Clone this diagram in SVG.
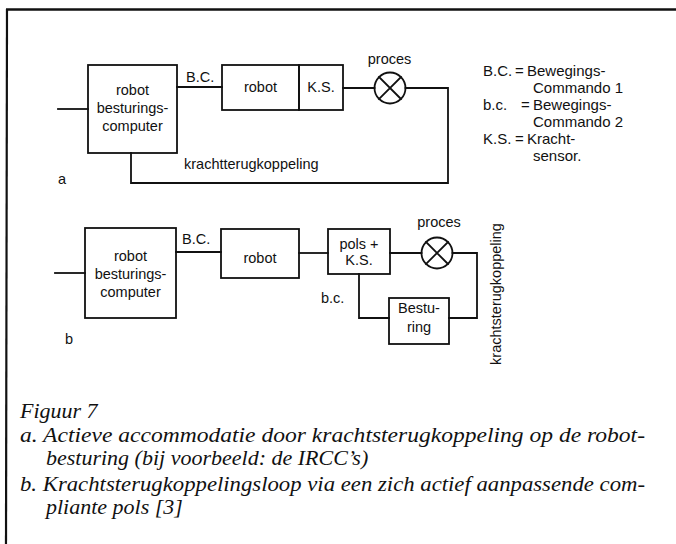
<svg xmlns="http://www.w3.org/2000/svg" width="676" height="544" viewBox="0 0 676 544">
<style>
.ln{fill:none;stroke:#111;stroke-width:1.8;stroke-linecap:square}
.bx{fill:none;stroke:#111;stroke-width:1.8}
.t{font-family:"Liberation Sans",Arial,sans-serif;font-size:14.5px;fill:#111}
.lg{font-size:15px}
.c{text-anchor:middle}
.cap{font-family:"Liberation Serif","Times New Roman",serif;font-style:italic;font-size:22px;fill:#111}
</style>
<rect x="0" y="0" width="676" height="544" fill="#fff"/>
<g id="frame">
<line x1="6" y1="9.5" x2="676" y2="9.5" stroke="#111" stroke-width="2.5"/>
<line x1="7" y1="9" x2="6" y2="544" stroke="#111" stroke-width="2.2"/>
</g>
<g id="connectors">
<path class="ln" d="M58 109H88"/>
<path class="ln" d="M177 87H222"/>
<path class="ln" d="M343 88H374.5"/>
<path class="ln" d="M405.5 88H448V183H131V153"/>
<path class="ln" d="M55 273H85"/>
<path class="ln" d="M176 252H221"/>
<path class="ln" d="M299 253H328"/>
<path class="ln" d="M390 253H421.5"/>
<path class="ln" d="M452.5 253H477V318H449"/>
<path class="ln" d="M359 274V318H389"/>
</g>
<g id="a-computer">
<rect class="bx" x="88" y="65" width="89" height="88"/>
<text class="t c" x="132.5" y="95">robot</text>
<text class="t c" x="132.5" y="113">besturings-</text>
<text class="t c" x="132.5" y="131">computer</text>
</g>
<text class="t" x="186" y="82">B.C.</text>
<g id="a-robot">
<rect class="bx" x="222" y="65" width="77" height="45"/>
<text class="t c" x="260.5" y="92">robot</text>
</g>
<g id="a-ks">
<rect class="bx" x="299" y="65" width="44" height="45"/>
<text class="t c" x="321" y="92">K.S.</text>
</g>
<g id="a-proces">
<circle class="bx" cx="390" cy="88" r="15.5"/>
<path class="ln" d="M379 77L401 99M401 77L379 99"/>
<text class="t c" x="389.5" y="64">proces</text>
</g>
<text class="t" x="184" y="169">krachtterugkoppeling</text>
<text class="t" x="58" y="184">a</text>
<g id="legend">
<text class="t lg" x="483" y="76">B.C.</text><text class="t lg" x="515" y="76">=</text><text class="t lg" x="527" y="76">Bewegings-</text>
<text class="t lg" x="533" y="93">Commando 1</text>
<text class="t lg" x="483" y="110">b.c.</text><text class="t lg" x="521" y="110">=</text><text class="t lg" x="533" y="110">Bewegings-</text>
<text class="t lg" x="533" y="127">Commando 2</text>
<text class="t lg" x="483" y="144">K.S.</text><text class="t lg" x="515" y="144">=</text><text class="t lg" x="527" y="144">Kracht-</text>
<text class="t lg" x="533" y="161">sensor.</text>
</g>
<g id="b-computer">
<rect class="bx" x="85" y="228" width="91" height="90"/>
<text class="t c" x="130.5" y="261">robot</text>
<text class="t c" x="130.5" y="279">besturings-</text>
<text class="t c" x="130.5" y="297">computer</text>
</g>
<text class="t" x="182" y="244">B.C.</text>
<g id="b-robot">
<rect class="bx" x="221" y="229" width="78" height="49"/>
<text class="t c" x="260" y="263">robot</text>
</g>
<g id="b-pols">
<rect class="bx" x="328" y="229" width="62" height="45"/>
<text class="t c" x="359" y="249">pols +</text>
<text class="t c" x="359" y="265">K.S.</text>
</g>
<g id="b-proces">
<circle class="bx" cx="437" cy="253" r="15.5"/>
<path class="ln" d="M426 242L448 264M448 242L426 264"/>
<text class="t c" x="439" y="227">proces</text>
</g>
<g id="b-besturing">
<rect class="bx" x="389" y="298" width="60" height="46"/>
<text class="t c" x="419" y="313">Bestu-</text>
<text class="t c" x="419" y="332">ring</text>
</g>
<text class="t" x="321" y="303">b.c.</text>
<text class="t c" transform="translate(501 294) rotate(-90)" x="0" y="0">krachtsterugkoppeling</text>
<text class="t" x="65" y="344">b</text>
<g id="caption">
<text class="cap" x="20" y="418">Figuur 7</text>
<text class="cap" x="20" y="442" textLength="625" lengthAdjust="spacingAndGlyphs">a.  Actieve accommodatie door krachtsterugkoppeling op de robot-</text>
<text class="cap" x="46" y="465">besturing (bij voorbeeld: de IRCC’s)</text>
<text class="cap" x="20" y="491" textLength="625" lengthAdjust="spacingAndGlyphs">b.  Krachtsterugkoppelingsloop via een zich actief aanpassende com-</text>
<text class="cap" x="46" y="514">pliante pols [3]</text>
</g>
</svg>
